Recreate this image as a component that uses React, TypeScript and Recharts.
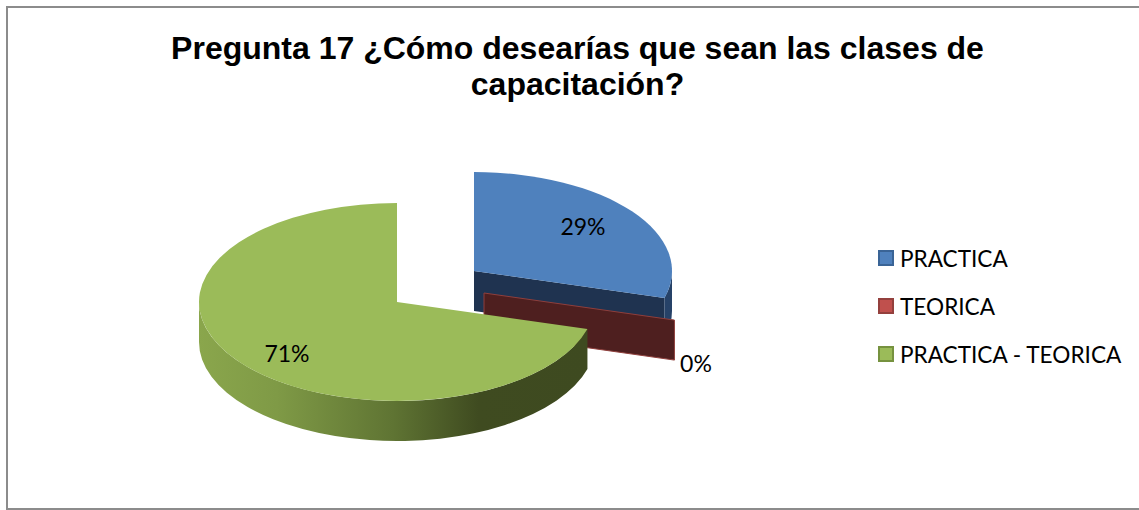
import { PieChart, Pie, Legend } from "recharts";

const CATEGORIES = ["PRACTICA", "TEORICA", "PRACTICA - TEORICA"];
const VALUES = [5, 0, 12];
const TITLE_LINES = [
  "Pregunta 17 ¿Cómo desearías que sean las clases de",
  "capacitación?",
];

const COLORS = ["#4f81bd", "#c0504d", "#9bbb59"];
const BORDERS = ["#3a6496", "#94403d", "#76923f"];
const WALLS = ["#1f3350", "#4e1f1f", "#3e4a20"];
const RIMS = ["#264268", "#4e1f1f", "url(#greenRim)"];
// exploded slices, pixels away from the pie centre
const EXPLODE = [
  [77, -31],
  [87, -9],
  [0, 0],
];
// label centres, pixels away from the pie centre
const LABEL_OFFSET = [
  [186, -76],
  [299, 61],
  [-110, 51],
];

const SQUASH = 0.5;
const DEPTH = 40;
const LABEL_FONT = "Lato, sans-serif";

const data = CATEGORIES.map((name, i) => ({
  name,
  value: VALUES[i],
  fill: COLORS[i],
}));

function pt(cx: number, cy: number, rx: number, t: number, dz = 0) {
  const a = (t * Math.PI) / 180;
  return [cx + rx * Math.sin(a), cy - rx * SQUASH * Math.cos(a) + dz];
}

function arc(rx: number, from: number, to: number, sweep: number, end: number[]) {
  const large = Math.abs(to - from) > 180 ? 1 : 0;
  return `A${rx} ${rx * SQUASH} 0 ${large} ${sweep} ${end[0]} ${end[1]}`;
}

// draws one slice as a flattened 3D wedge
function Slice3D(props: any) {
  const i = CATEGORIES.indexOf(props.name);
  const cx = props.cx + EXPLODE[i][0];
  const cy = props.cy + EXPLODE[i][1];
  const rx = props.outerRadius;
  const t0 = 90 - props.startAngle;
  const t1 = 90 - props.endAngle;
  const apex = [cx, cy];

  const parts = [];

  if (t1 < 180) {
    const a = pt(cx, cy, rx, t1);
    const b = pt(cx, cy, rx, t1, DEPTH);
    parts.push(
      <path
        key="wall"
        d={`M${apex[0]} ${apex[1]}L${a[0]} ${a[1]}L${b[0]} ${b[1]}L${apex[0]} ${apex[1] + DEPTH}Z`}
        fill={WALLS[i]}
        stroke={i === 1 ? "#8f3f3c" : "none"}
      />,
    );
  }

  const r0 = Math.max(t0, 90);
  const r1 = Math.min(t1, 270);
  if (r1 > r0) {
    const a = pt(cx, cy, rx, r0);
    const b = pt(cx, cy, rx, r1);
    const c = pt(cx, cy, rx, r1, DEPTH);
    const d = pt(cx, cy, rx, r0, DEPTH);
    parts.push(
      <path
        key="rim"
        d={`M${a[0]} ${a[1]}${arc(rx, r0, r1, 1, b)}L${c[0]} ${c[1]}${arc(rx, r1, r0, 0, d)}Z`}
        fill={RIMS[i]}
      />,
    );
  }

  if (t1 > t0) {
    const a = pt(cx, cy, rx, t0);
    const b = pt(cx, cy, rx, t1);
    parts.push(
      <path
        key="top"
        d={`M${apex[0]} ${apex[1]}L${a[0]} ${a[1]}${arc(rx, t0, t1, 1, b)}Z`}
        fill={COLORS[i]}
      />,
    );
  }

  return <g>{parts}</g>;
}

function sliceLabel(props: any) {
  const i = CATEGORIES.indexOf(props.name);
  return (
    <text
      x={props.cx + LABEL_OFFSET[i][0]}
      y={props.cy + LABEL_OFFSET[i][1]}
      textAnchor="middle"
      dominantBaseline="central"
      fontFamily={LABEL_FONT}
      fontSize={23}
      fill="#000"
    >
      {`${Math.round(props.percent * 100)}%`}
    </text>
  );
}

function LegendBox({ payload }: any) {
  return (
    <div style={{ fontFamily: LABEL_FONT, fontSize: 22.6, color: "#000" }}>
      {(payload || []).map((entry: any) => {
        const i = CATEGORIES.indexOf(entry.value);
        return (
          <div
            key={entry.value}
            style={{ height: 48, display: "flex", alignItems: "center", whiteSpace: "nowrap" }}
          >
            <span
              style={{
                width: 12,
                height: 12,
                marginRight: 6,
                background: COLORS[i],
                border: `2px solid ${BORDERS[i]}`,
              }}
            />
            {entry.value}
          </div>
        );
      })}
    </div>
  );
}

export default function App() {
  return (
    <div style={{ position: "absolute", left: 0, top: 0, width: 1139, height: 510, background: "#fff" }}>
      <PieChart width={1139} height={510} margin={{ top: 0, right: 0, bottom: 0, left: 0 }}>
        <defs>
          <linearGradient id="greenRim" gradientUnits="userSpaceOnUse" x1={199} y1={0} x2={587} y2={0}>
            <stop offset="0" stopColor="#8aa64c" />
            <stop offset="0.2" stopColor="#7f9a46" />
            <stop offset="0.5" stopColor="#5f7433" />
            <stop offset="0.72" stopColor="#3f4b20" />
            <stop offset="1" stopColor="#3e4a20" />
          </linearGradient>
        </defs>
        <rect x={7} y={7} width={1150} height={502} fill="#fff" stroke="#8c8c8c" strokeWidth={2} />
        {TITLE_LINES.map((line, i) => (
          <text
            key={line}
            x={577.5}
            y={59 + i * 36}
            textAnchor="middle"
            fontFamily="'Liberation Sans', Arial, sans-serif"
            fontWeight="bold"
            fontSize={32}
            fill="#000"
          >
            {line}
          </text>
        ))}
        <Pie
          data={data}
          dataKey="value"
          nameKey="name"
          cx={397}
          cy={302}
          outerRadius={198}
          startAngle={90}
          endAngle={-270}
          stroke="none"
          shape={Slice3D}
          activeShape={Slice3D}
          inactiveShape={Slice3D}
          label={sliceLabel}
          labelLine={false}
          isAnimationActive={false}
        />
        <Legend
          content={LegendBox}
          itemSorter={null}
          wrapperStyle={{ position: "absolute", left: 878, top: 234, width: 260 }}
        />
      </PieChart>
    </div>
  );
}
